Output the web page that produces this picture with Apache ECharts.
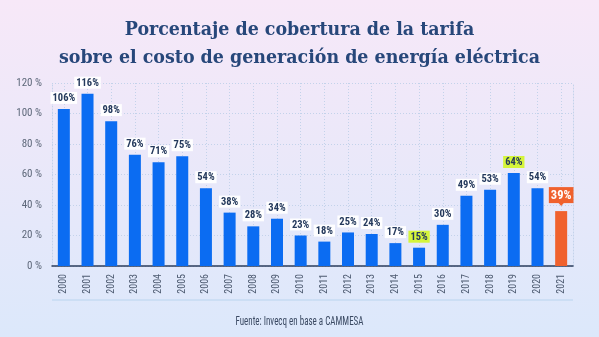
<!DOCTYPE html>
<html>
<head>
<meta charset="utf-8">
<script src="https://cdn.jsdelivr.net/npm/echarts@6/dist/echarts.min.js"></script>
<style>
html,body{margin:0;padding:0;}
#c{width:599px;height:337px;}
</style>
</head>
<body>
<div id="c"></div>
<script>
// ---- data ----
const years = ['2000','2001','2002','2003','2004','2005','2006','2007','2008','2009','2010','2011','2012','2013','2014','2015','2016','2017','2018','2019','2020','2021'];
// bar heights (percent on the value axis)
const barValues = [103,113,95,73,68,72,51,35,26,31,20,16,22,21,15,12,27,46,50,61,51,36];
// printed data labels
const labelTexts = ['106%','116%','98%','76%','71%','75%','54%','38%','28%','34%','23%','18%','25%','24%','17%','15%','30%','49%','53%','64%','54%','39%'];
const yTicks = [0,20,40,60,80,100,120];
const highlightYears = ['2015','2019'];
const accentYear = '2021';
const titleLines = ['Porcentaje de cobertura de la tarifa','sobre el costo de generación de energía eléctrica'];
const sourceText = 'Fuente: Invecq en base a CAMMESA';

const COND = '"Roboto Condensed", Roboto, sans-serif';
const BLUE = '#0b6cf2', ORANGE = '#f0612d', NAVY = '#27477a', LIME = '#d5f53b';

const seriesData = years.map((y, i) => {
  const item = { value: barValues[i] };
  if (highlightYears.includes(y)) {
    item.label = { backgroundColor: LIME };
  }
  if (y === accentYear) {
    item.itemStyle = { color: ORANGE };
    item.label = { backgroundColor: ORANGE, color: '#ffffff', fontSize: 12.5, padding: [2, 2, 1, 2], distance: 8 };
  }
  return item;
});

const chart = echarts.init(document.getElementById('c'), null, { renderer: 'canvas' });
chart.setOption({
  backgroundColor: new echarts.graphic.LinearGradient(0, 0, 0, 1, [
    { offset: 0, color: '#f7e8f8' },
    { offset: 1, color: '#dce8fb' }
  ]),
  animation: false,
  title: {
    text: titleLines.join('\n'),
    left: 'center',
    top: 11,
    textStyle: {
      fontFamily: '"DejaVu Serif Condensed", "DejaVu Serif", serif',
      fontWeight: 'bold',
      fontSize: 19.4,
      lineHeight: 28,
      color: NAVY
    }
  },
  graphic: [
    {
      type: 'text',
      x: 299.5,
      y: 316,
      scaleX: 0.75,
      style: { text: sourceText, fill: '#3b4a63', font: '12px ' + COND, align: 'center' }
    },
    {
      type: 'line',
      shape: { x1: 52, y1: 300, x2: 573, y2: 300 },
      style: { stroke: '#b9d4ee', lineWidth: 1 }
    }
  ],
  grid: { left: 52, right: 26, top: 83, bottom: 71 },
  xAxis: {
    type: 'category',
    data: years,
    boundaryGap: true,
    axisLine: { lineStyle: { color: '#2b3d5c', width: 1.5 } },
    axisTick: { show: false },
    axisLabel: { rotate: 90, margin: 8, fontSize: 10, color: '#4d5a70', fontFamily: COND },
    splitLine: { show: true, alignWithLabel: true, lineStyle: { color: '#c3d2ea', type: [1, 2], width: 1 } }
  },
  yAxis: [
    {
      type: 'value',
      min: 0, max: 120, interval: 20,
      axisLine: { show: true, lineStyle: { color: '#c3d2ea', type: [1, 2] } },
      axisTick: { show: false },
      axisLabel: { margin: 10, fontSize: 11, color: '#5e687a', fontFamily: COND,
        formatter: v => yTicks.includes(v) ? v + ' %' : '' },
      splitLine: { lineStyle: { color: '#c3d2ea', type: [1, 2], width: 1 } }
    },
    {
      type: 'value',
      position: 'right',
      min: 0, max: 120, interval: 20,
      axisLine: { show: true, lineStyle: { color: '#c3d2ea', type: [1, 2] } },
      axisTick: { show: false },
      axisLabel: { show: false },
      splitLine: { show: false }
    }
  ],
  series: [{
    type: 'bar',
    yAxisIndex: 0,
    data: seriesData,
    barWidth: 12,
    itemStyle: { color: BLUE },
    label: {
      show: true,
      position: 'top',
      distance: 5,
      formatter: p => labelTexts[p.dataIndex],
      backgroundColor: 'rgba(255,255,255,0.95)',
      padding: [1, 2, 0, 2],
      color: '#24395c',
      fontSize: 10.5,
      fontWeight: 'bold',
      fontFamily: COND
    },
    markPoint: {
      silent: true,
      label: { show: false },
      data: [{
        coord: [accentYear, barValues[years.indexOf(accentYear)]],
        symbol: 'triangle',
        symbolRotate: 180,
        symbolSize: [7, 4],
        symbolOffset: [0, -7],
        itemStyle: { color: ORANGE }
      }]
    }
  }]
});
</script>
</body>
</html>
